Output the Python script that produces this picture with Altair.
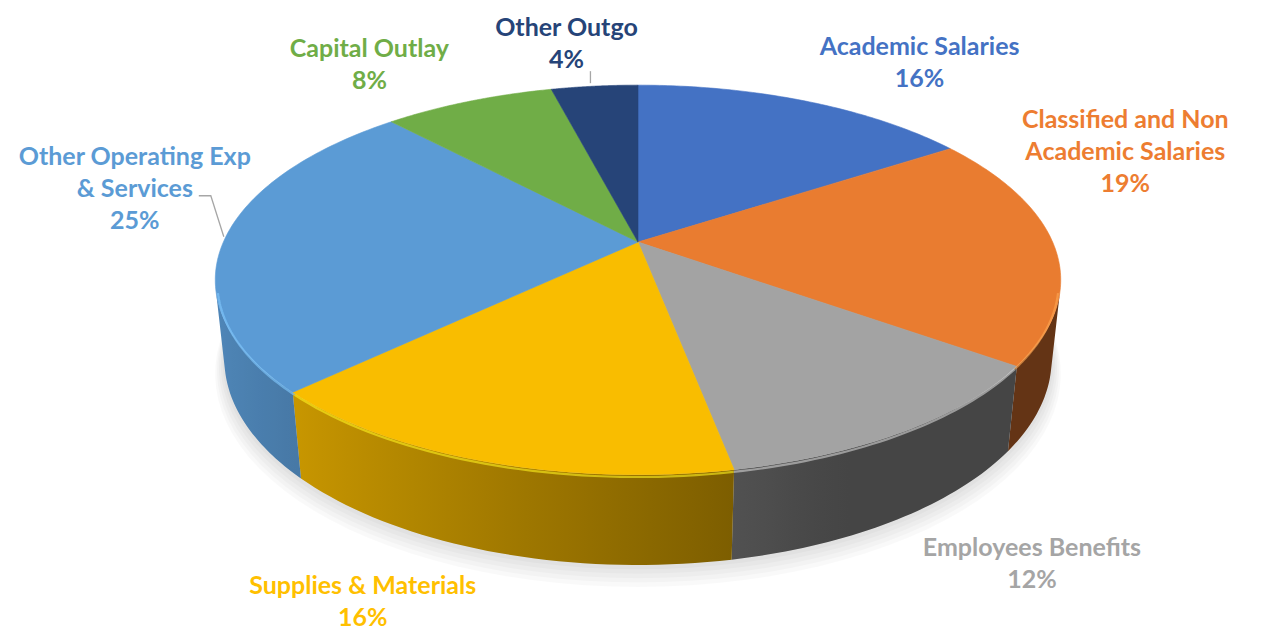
import math
import altair as alt
import pandas as pd

# ---------------- data ----------------
CATEGORIES = [
    "Academic Salaries",
    "Classified and Non Academic Salaries",
    "Employees Benefits",
    "Supplies & Materials",
    "Other Operating Exp & Services",
    "Capital Outlay",
    "Other Outgo",
]
VALUES = [15.7, 19.3, 12.0, 15.8, 25.3, 7.9, 4.0]
LABEL_TEXT = [
    "Academic Salaries",
    "Classified and Non\nAcademic Salaries",
    "Employees Benefits",
    "Supplies & Materials",
    "Other Operating Exp\n& Services",
    "Capital Outlay",
    "Other Outgo",
]

# ---------------- styles ----------------
BASE_COLORS = ["#4472C4", "#ED7D31", "#A5A5A5", "#FFC000", "#5B9BD5", "#70AD47", "#264478"]
TOP_COLORS = ["#4472C4", "#E97C30", "#A3A3A3", "#F9BD00", "#5B9BD5", "#70AD47", "#264478"]
# label nudges (px) of the first text line from each slice's rim mid-point
NUDGE_X = [114, 71, 128, -121, -91, -99, -28]
NUDGE_Y = [-54, -126, 117, 125, -80, -53, -58]

# perspective projection of the 3D disc
CX, CY = 638.0, 242.0
F = 1899.0
D = 4.58
S, C = 0.452, 0.892
DEPTH = 0.215
ALPHA = math.acos(1.0 / (D * C))
T1, T2 = math.pi - ALPHA, math.pi + ALPHA

W, H = 1255, 621
M = 40  # points along each wall edge


def hex_rgb(h):
    h = h.lstrip("#")
    return [int(h[i:i + 2], 16) for i in (0, 2, 4)]


total = sum(VALUES)
cum = pd.Series(VALUES).cumsum()
slices = pd.DataFrame({
    "cat": CATEGORIES,
    "value": VALUES,
    "label": LABEL_TEXT,
    "col": TOP_COLORS,
    "tcol": BASE_COLORS,
    "R": [hex_rgb(c)[0] for c in BASE_COLORS],
    "G": [hex_rgb(c)[1] for c in BASE_COLORS],
    "B": [hex_rgb(c)[2] for c in BASE_COLORS],
    "a0": 2 * math.pi * (cum - pd.Series(VALUES)) / total,
    "a1": 2 * math.pi * cum / total,
    "nx": NUDGE_X,
    "ny": NUDGE_Y,
})


def proj(r, th, h):
    den = f"({D} + ({r})*cos({th})*{C} + ({h})*{S})"
    px = f"{CX} + {F}*({r})*sin({th})/{den}"
    py = f"{CY} - {F}*(({r})*cos({th})*{S} - ({h})*{C})/{den}"
    return px, py


def proj_x(th, h):
    den = D + math.cos(th) * C + h * S
    return CX + F * math.sin(th) / den


def light(th):
    return min(0.9, max(0.42, 0.55 - 0.32 * math.sin(th)))


XS = alt.Scale(domain=[8, 8 + W], nice=False, zero=False)
YS = alt.Scale(domain=[8, 8 + H], nice=False, zero=False, reverse=True)


def xy():
    return dict(
        x=alt.X("px:Q", scale=XS, axis=None),
        y=alt.Y("py:Q", scale=YS, axis=None),
    )


# soft shadow under the pie
spx, spy = proj("datum.rr", "datum.th", "datum.hh")
shadow = (
    alt.Chart(alt.sequence(0, 6, as_="s"))
    .transform_calculate(t="sequence(0, 121)")
    .transform_flatten(["t"])
    .transform_calculate(
        th="2*PI*datum.t/120",
        rr="1.0 + 0.005*datum.s",
        hh=f"{DEPTH} + 0.007*datum.s",
    )
    .transform_calculate(px=spx, py=spy)
    .mark_line(fill="#000000", fillOpacity=0.022, strokeWidth=0)
    .encode(**xy(), order="t:Q", detail="s:N")
)

# side walls, one shaded polygon per visible slice
wpx, wpy = proj("1", "datum.th", "datum.h")
walls = []
for i, cat in enumerate(CATEGORIES):
    b0 = max(slices.a0[i], T1)
    b1 = min(slices.a1[i], T2)
    if b1 <= b0:
        continue
    xs_all = [proj_x(b0 + (b1 - b0) * k / M, h) for k in range(M + 1) for h in (0.0, DEPTH)]
    xmin, xmax = min(xs_all), max(xs_all)
    rgb = hex_rgb(BASE_COLORS[i])
    stops = []
    for k in range(13):
        t = b0 + (b1 - b0) * k / 12
        xm = 0.5 * (proj_x(t, 0.0) + proj_x(t, DEPTH))
        off = min(1.0, max(0.0, (xm - xmin) / (xmax - xmin)))
        f = light(t)
        colr = "#%02x%02x%02x" % tuple(int(round(v * f)) for v in rgb)
        stops.append((off, colr))
    stops.sort()
    grad = alt.LinearGradient(
        gradient="linear", x1=0, y1=0, x2=1, y2=0,
        stops=[alt.GradientStop(offset=o, color=c) for o, c in stops],
    )
    wall = (
        alt.Chart(slices)
        .transform_filter(alt.FieldEqualPredicate(field="cat", equal=cat))
        .transform_calculate(b0=f"max(datum.a0, {T1})", b1=f"min(datum.a1, {T2})")
        .transform_calculate(k=f"sequence(0, {2 * M + 2})")
        .transform_flatten(["k"])
        .transform_calculate(
            th=f"datum.k <= {M} ? datum.b0 + (datum.b1 - datum.b0) * datum.k / {M} "
               f": datum.b1 - (datum.b1 - datum.b0) * (datum.k - {M + 1}) / {M}",
            h=f"datum.k <= {M} ? 0 : {DEPTH}",
        )
        .transform_calculate(px=wpx, py=wpy)
        .mark_line(fill=grad, strokeWidth=0)
        .encode(**xy(), order="k:Q")
    )
    walls.append(wall)

# top face
tpx, tpy = proj("datum.r", "datum.th", "0")
top = (
    alt.Chart(slices)
    .transform_calculate(k="sequence(0, 83)")
    .transform_flatten(["k"])
    .transform_calculate(
        r="(datum.k == 0 || datum.k == 82) ? 0 : 1",
        th="datum.a0 + (datum.a1 - datum.a0) * clamp(datum.k - 1, 0, 80) / 80",
    )
    .transform_calculate(px=tpx, py=tpy)
    .mark_line(strokeWidth=0.6, strokeJoin="round")
    .encode(
        **xy(),
        order="k:Q",
        detail="cat:N",
        fill=alt.Fill("col:N", scale=None),
        stroke=alt.Stroke("col:N", scale=None),
    )
)

# bevel highlight along the visible front rim
hpx, hpy = proj("0.996", "datum.th", "0.008")
rim = (
    alt.Chart(slices)
    .transform_calculate(b0=f"max(datum.a0, {T1})", b1=f"min(datum.a1, {T2})")
    .transform_filter("datum.b1 > datum.b0")
    .transform_calculate(k="sequence(0, 41)")
    .transform_flatten(["k"])
    .transform_calculate(
        th="datum.b0 + (datum.b1 - datum.b0) * datum.k / 40",
        hl="'rgb(' + round(min(255, datum.R*1.1 + 30)) + ',' + round(min(255, datum.G*1.1 + 30)) + ',' + round(min(255, datum.B*1.1 + 30)) + ')'",
    )
    .transform_calculate(px=hpx, py=hpy)
    .mark_line(strokeWidth=2.2, strokeOpacity=0.6)
    .encode(**xy(), order="k:Q", detail="cat:N", stroke=alt.Stroke("hl:N", scale=None))
)

# labels
lpx, lpy = proj("1", "datum.th", "0")
labels = (
    alt.Chart(slices)
    .transform_calculate(th="(datum.a0 + datum.a1) / 2")
    .transform_calculate(rx=lpx, ry=lpy)
    .transform_calculate(
        px="datum.rx + datum.nx",
        py="datum.ry + datum.ny",
        txt=f"datum.label + '\\n' + format(datum.value / {total}, '.0%')",
    )
    .mark_text(
        font="Lato", fontWeight="bold", fontSize=25, lineBreak="\n",
        lineHeight=32, align="center", baseline="middle",
    )
    .encode(**xy(), text="txt:N", color=alt.Color("tcol:N", scale=None))
)

# leader lines
LEADER_CAT = ["Other Outgo", "Other Outgo",
              "Other Operating Exp & Services", "Other Operating Exp & Services",
              "Other Operating Exp & Services"]
LEADER_STEP = [0, 1, 0, 1, 2]
LEADER_OX = [-4, -4, -2, -15, -27]
LEADER_OY = [-3, -15, 0, -41, -41]
leader_df = pd.DataFrame({"cat": LEADER_CAT, "step": LEADER_STEP, "ox": LEADER_OX, "oy": LEADER_OY})
leaders = (
    alt.Chart(leader_df)
    .transform_lookup(lookup="cat", from_=alt.LookupData(slices, "cat", ["a0", "a1"]))
    .transform_calculate(th="(datum.a0 + datum.a1) / 2")
    .transform_calculate(rx=lpx, ry=lpy)
    .transform_calculate(px="datum.rx + datum.ox", py="datum.ry + datum.oy")
    .mark_line(color="#A6A6A6", strokeWidth=1.3)
    .encode(**xy(), order="step:Q", detail="cat:N")
)

chart = (
    alt.layer(shadow, *walls, top, rim, leaders, labels)
    .properties(width=W, height=H, padding=0, background="#FFFFFF")
    .configure_view(stroke=None)
)

chart.save("out.html", embed_options={"renderer": "svg", "actions": False})
